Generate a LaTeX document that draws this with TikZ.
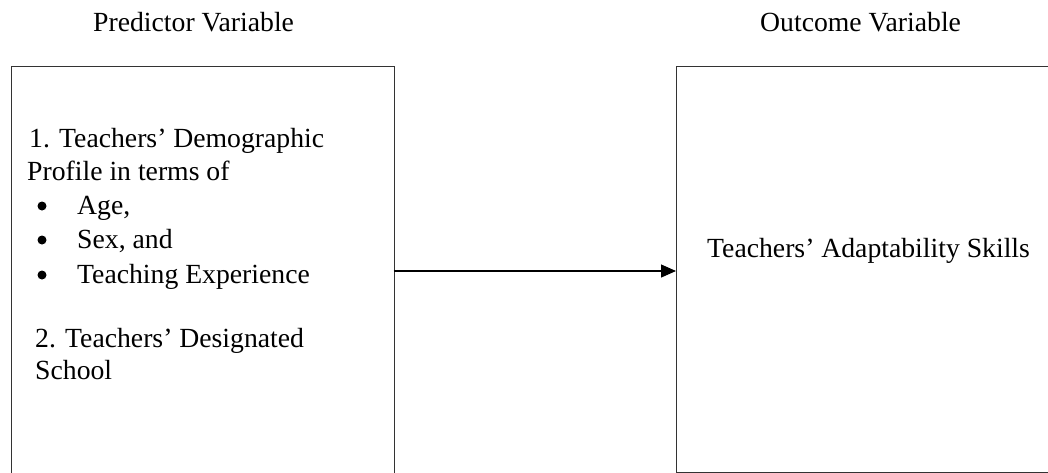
\documentclass[tikz,border=0pt]{standalone}
\usepackage{fontspec}
\setmainfont{Liberation Serif}
\usetikzlibrary{arrows.meta}

\tikzset{
  frame/.style={draw=black!80, line width=1.2pt, anchor=north west, inner sep=0pt},
  txt/.style={anchor=base west, inner sep=0pt},
  dot/.style={circle, fill=black, inner sep=0pt, minimum size=9pt}
}

\begin{document}
\begin{tikzpicture}[x=1pt,y=-1pt,font=\fontsize{27.7}{34}\selectfont]
\useasboundingbox (0,0) rectangle (1048,472) ;
\clip (0,0) rectangle (1048,472) ;

% headings
\node[txt] (predhead) at (93,31) {Predictor Variable} ;
\node[txt] (outhead) at (760,31) {Outcome Variable} ;

% the two boxes
\node[frame, minimum width=383pt, minimum height=430pt] (pred) at (10.5,66) {} ;
\node[frame, minimum width=390pt, minimum height=405.5pt] (outc) at (676,66) {} ;

% predictor text
\node[txt] (demo) at (29,147) {1. Teachers’ Demographic} ;
\node[txt] (prof) at (27,180) {Profile in terms of} ;
\node[dot] (b1) at (42,206) {} ;
\node[txt] (age) at (77,214) {Age,} ;
\node[dot] (b2) at (42,240) {} ;
\node[txt] (sex) at (77,248) {Sex, and} ;
\node[dot] (b3) at (42,275) {} ;
\node[txt] (exp) at (77,283) {Teaching Experience} ;
\node[txt] (desig) at (35,347) {2. Teachers’ Designated} ;
\node[txt] (school) at (35,379) {School} ;

% outcome text
\node[txt] (adapt) at (707,257) {Teachers’ Adaptability Skills} ;

\coordinate (from) at (393.5,271) ;
\draw[line width=1.2pt, -{Triangle[length=15pt,width=13pt]}] (from) -- (outc.west |- from) ;

\end{tikzpicture}
\end{document}
